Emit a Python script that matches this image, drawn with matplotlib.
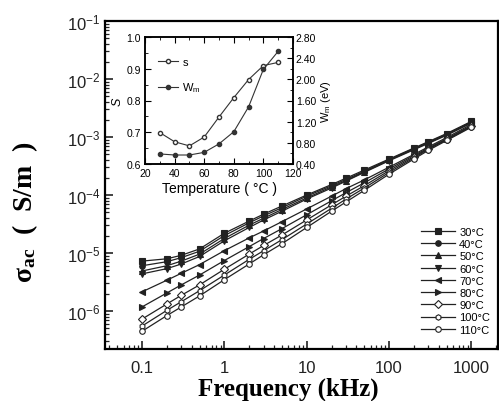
"""AC conductivity vs frequency at several temperatures, with s / W_m inset."""

import matplotlib

matplotlib.use("Agg")

import matplotlib.pyplot as plt
import numpy as np
from matplotlib.ticker import FixedLocator, LogLocator, NullFormatter

plt.rcParams["font.family"] = ["Liberation Sans", "DejaVu Sans"]
plt.rcParams["mathtext.fontset"] = "custom"
plt.rcParams["mathtext.rm"] = "Liberation Serif"
plt.rcParams["mathtext.it"] = "Liberation Serif:italic"
plt.rcParams["mathtext.bf"] = "Liberation Serif:bold"
plt.rcParams["mathtext.sf"] = "Liberation Sans"

# frequency points (kHz)
freq_khz = [0.1, 0.2, 0.3, 0.5, 1, 2, 3, 5, 10, 20, 30, 50, 100, 200, 300, 500, 1000]

# log10 of sigma_ac (S/m) for each temperature
log_sigma_30 = [-5.14, -5.10, -5.04, -4.93, -4.66, -4.45, -4.33, -4.19, -4.00, -3.82, -3.71, -3.57, -3.38, -3.19, -3.08, -2.94, -2.73]
log_sigma_40 = [-5.22, -5.15, -5.08, -4.97, -4.70, -4.48, -4.36, -4.22, -4.02, -3.84, -3.73, -3.59, -3.39, -3.20, -3.09, -2.95, -2.74]
log_sigma_50 = [-5.31, -5.22, -5.14, -5.02, -4.75, -4.52, -4.40, -4.25, -4.05, -3.86, -3.75, -3.60, -3.40, -3.21, -3.10, -2.96, -2.75]
log_sigma_60 = [-5.36, -5.27, -5.19, -5.06, -4.79, -4.56, -4.43, -4.28, -4.07, -3.88, -3.76, -3.61, -3.41, -3.22, -3.11, -2.97, -2.76]
log_sigma_70 = [-5.67, -5.47, -5.35, -5.20, -4.96, -4.74, -4.62, -4.46, -4.24, -4.02, -3.89, -3.74, -3.52, -3.30, -3.17, -3.01, -2.78]
log_sigma_80 = [-5.93, -5.69, -5.55, -5.38, -5.13, -4.89, -4.75, -4.58, -4.34, -4.10, -3.96, -3.79, -3.55, -3.32, -3.19, -3.03, -2.80]
log_sigma_90 = [-6.14, -5.88, -5.73, -5.55, -5.28, -5.02, -4.87, -4.69, -4.43, -4.17, -4.02, -3.84, -3.58, -3.34, -3.20, -3.04, -2.81]
log_sigma_100 = [-6.26, -5.99, -5.84, -5.65, -5.38, -5.11, -4.96, -4.77, -4.50, -4.23, -4.07, -3.88, -3.61, -3.36, -3.21, -3.05, -2.82]
log_sigma_110 = [-6.35, -6.08, -5.93, -5.74, -5.46, -5.19, -5.03, -4.84, -4.56, -4.28, -4.12, -3.92, -3.64, -3.38, -3.23, -3.06, -2.83]

temp_labels = ["30°C", "40°C", "50°C", "60°C", "70°C", "80°C", "90°C", "100°C", "110°C"]

# inset data
temperature_c = [30, 40, 50, 60, 70, 80, 90, 100, 110]
s_exponent = [0.699, 0.670, 0.657, 0.685, 0.748, 0.809, 0.866, 0.910, 0.920]
w_m_ev = [0.59, 0.57, 0.57, 0.62, 0.78, 1.01, 1.48, 2.19, 2.53]

series = [log_sigma_30, log_sigma_40, log_sigma_50, log_sigma_60, log_sigma_70,
          log_sigma_80, log_sigma_90, log_sigma_100, log_sigma_110]
markers = ["s", "o", "^", "v", "<", ">", "D", "h", "o"]
filled = [True, True, True, True, True, True, False, False, False]

fig = plt.figure(figsize=(4.99, 4.02), dpi=100)
ax = fig.add_axes([105 / 499, 1 - 350 / 402, 393 / 499, 328 / 402])

for values, label, marker, full in zip(series, temp_labels, markers, filled):
    ax.plot(
        freq_khz,
        10.0 ** np.asarray(values),
        color="#222222",
        linewidth=0.9,
        marker=marker,
        markersize=4,
        markerfacecolor="#222222" if full else "white",
        markeredgecolor="#222222",
        markeredgewidth=0.8,
        label=label,
    )

ax.set_xscale("log")
ax.set_yscale("log")
ax.set_xlim(0.0356, 2100)
ax.set_ylim(10 ** -6.655, 0.1)
ax.set_xticks([0.1, 1, 10, 100, 1000])
ax.set_xticklabels(["0.1", "1", "10", "100", "1000"])
ax.xaxis.set_minor_locator(LogLocator(base=10, subs=np.arange(2, 10)))
ax.xaxis.set_minor_formatter(NullFormatter())
ax.set_yticks([1e-6, 1e-5, 1e-4, 1e-3, 1e-2, 1e-1])
ax.set_yticklabels([r"$\mathsf{10^{-%d}}$" % k for k in (6, 5, 4, 3, 2, 1)])
ax.yaxis.set_minor_locator(LogLocator(base=10, subs=np.arange(2, 10)))
ax.yaxis.set_minor_formatter(NullFormatter())
ax.tick_params(which="both", direction="in", labelsize=12, colors="#222222")
ax.tick_params(axis="x", pad=8)
ax.tick_params(which="major", length=6, width=1.2)
ax.tick_params(which="minor", length=3, width=0.9)
for spine in ax.spines.values():
    spine.set_linewidth(1.6)

ax.set_xlabel("Frequency (kHz)", family="Liberation Serif", fontweight="bold", fontsize=18)
ax.xaxis.set_label_coords(0.466, -0.083)
ax.set_ylabel(r"$\mathbf{σ_{ac}}$  (  S/m  )", family="Liberation Serif",
              fontweight="bold", fontsize=20)
ax.yaxis.set_label_coords(-0.165, 0.42)

ax.legend(loc="lower right", bbox_to_anchor=(1.0, 0.02), frameon=False, fontsize=8,
          handlelength=3.0, labelspacing=0.2, handletextpad=0.4, borderpad=0.2)

# inset: s and W_m vs temperature
ins = fig.add_axes([145 / 499, 1 - 165 / 402, 148 / 499, 127 / 402])
line_s, = ins.plot(temperature_c, s_exponent, color="#333333", linewidth=0.8, marker="o",
                   markersize=3, markerfacecolor="white", markeredgecolor="#333333", label="s")
ins.set_xlim(20, 120)
ins.set_ylim(0.6, 1.0)
ins.set_xticks([20, 40, 60, 80, 100, 120])
ins.xaxis.set_minor_locator(FixedLocator([30, 50, 70, 90, 110]))
ins.set_yticks([0.6, 0.7, 0.8, 0.9, 1.0])
ins.set_yticklabels(["0.6", "0.7", "0.8", "0.9", "1.0"])
ins.yaxis.set_minor_locator(FixedLocator([0.65, 0.75, 0.85, 0.95]))
ins.set_xlabel("Temperature ( °C )", fontsize=10, labelpad=2)
ins.set_ylabel("S", fontsize=9, style="italic", labelpad=2)
ins.tick_params(which="both", direction="in", top=True, labelsize=7.5, pad=3)
ins.tick_params(which="major", length=4)
ins.tick_params(which="minor", length=2)

twin = ins.twinx()
line_w, = twin.plot(temperature_c, w_m_ev, color="#333333", linewidth=0.8, marker="o",
                    markersize=3, markerfacecolor="#333333", markeredgecolor="#333333",
                    label="W$_m$")
twin.set_ylim(0.4, 2.8)
twin.set_yticks([0.4, 0.8, 1.2, 1.6, 2.0, 2.4, 2.8])
twin.set_yticklabels(["0.40", "0.80", "1.20", "1.60", "2.00", "2.40", "2.80"])
twin.yaxis.set_minor_locator(FixedLocator([0.6, 1.0, 1.4, 1.8, 2.2, 2.6]))
twin.set_ylabel(r"$\mathsf{W_m}$ (eV)", fontsize=8, labelpad=2)
twin.tick_params(which="both", direction="in", labelsize=7.5, pad=2)
twin.tick_params(which="major", length=4)
twin.tick_params(which="minor", length=2)
for a in (ins, twin):
    for spine in a.spines.values():
        spine.set_linewidth(1.1)

ins.legend([line_s, line_w], ["s", r"$\mathsf{W_m}$"], loc="upper left", bbox_to_anchor=(0.02, 0.92),
           frameon=False, fontsize=8, handlelength=1.8, handletextpad=0.4, labelspacing=1.2)

fig.savefig("out.png", dpi=100)
